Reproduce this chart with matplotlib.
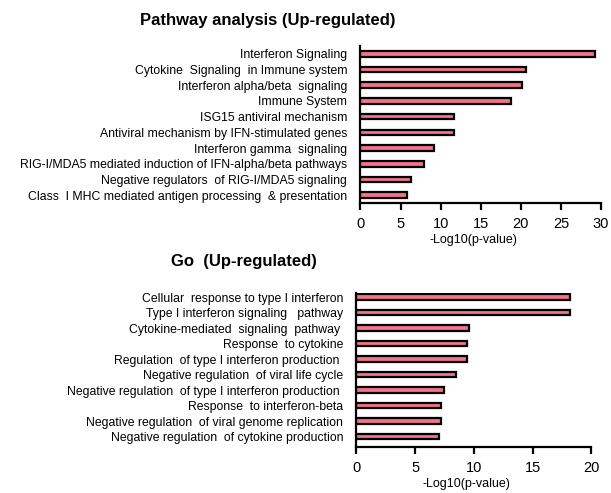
import matplotlib
matplotlib.use("Agg")
import matplotlib.pyplot as plt

plt.rcParams['font.family'] = ['Liberation Sans', 'DejaVu Sans']

pathway_terms = [
    "Interferon Signaling",
    "Cytokine  Signaling  in Immune system",
    "Interferon alpha/beta  signaling",
    "Immune System",
    "ISG15 antiviral mechanism",
    "Antiviral mechanism by IFN-stimulated genes",
    "Interferon gamma  signaling",
    "RIG-I/MDA5 mediated induction of IFN-alpha/beta pathways",
    "Negative regulators  of RIG-I/MDA5 signaling",
    "Class  I MHC mediated antigen processing  & presentation",
]
pathway_values = [29.3, 20.6, 20.1, 18.8, 11.7, 11.7, 9.2, 7.9, 6.3, 5.8]

go_terms = [
    "Cellular  response to type I interferon",
    "Type I interferon signaling   pathway",
    "Cytokine-mediated  signaling  pathway ",
    "Response  to cytokine",
    "Regulation  of type I interferon production ",
    "Negative regulation  of viral life cycle",
    "Negative regulation  of type I interferon production ",
    "Response  to interferon-beta",
    "Negative regulation  of viral genome replication",
    "Negative regulation  of cytokine production",
]
go_values = [18.2, 18.2, 9.6, 9.4, 9.4, 8.5, 7.45, 7.25, 7.25, 7.05]

BAR_COLOR = "#F4728E"
FIG_H_PX = 493

fig = plt.figure(figsize=(6.11, 4.93), dpi=100)


def draw_panel(rect, terms, values, xmax, ticks, ylim, title, title_xy):
    ax = fig.add_axes(rect)
    pos = list(range(len(terms)))
    ax.barh(pos, values, height=0.36, color=BAR_COLOR, edgecolor="black",
            linewidth=1.6)
    ax.set_xlim(0, xmax)
    ax.set_ylim(*ylim)
    ax.set_yticks(pos)
    ax.set_yticklabels(terms, fontsize=8.8)
    ax.tick_params(axis="y", length=0, pad=9.5)
    ax.set_xticks(ticks)
    ax.tick_params(axis="x", direction="out", length=5, width=1.6,
                   labelsize=10.5, pad=5)
    for s in ("top", "right"):
        ax.spines[s].set_visible(False)
    for s in ("left", "bottom"):
        ax.spines[s].set_linewidth(1.6)
    ax.set_xlabel("-Log10(p-value)", fontsize=9)
    axes_h_px = rect[3] * FIG_H_PX
    ax.xaxis.set_label_coords(0.47, -31.0 / axes_h_px)
    fig.text(title_xy[0], title_xy[1], title, fontsize=12, fontweight="bold",
             ha="center", va="center")
    return ax


draw_panel([0.590, 0.588, 0.3936, 0.319], pathway_terms, pathway_values, 30,
           [0, 5, 10, 15, 20, 25, 30], (9.5, -0.5),
           "Pathway analysis (Up-regulated)", (0.439, 0.959))

draw_panel([0.583, 0.094, 0.385, 0.312], go_terms, go_values, 20,
           [0, 5, 10, 15, 20], (9.65, -0.28),
           "Go  (Up-regulated)", (0.400, 0.470))

fig.savefig("out.png", dpi=100)
